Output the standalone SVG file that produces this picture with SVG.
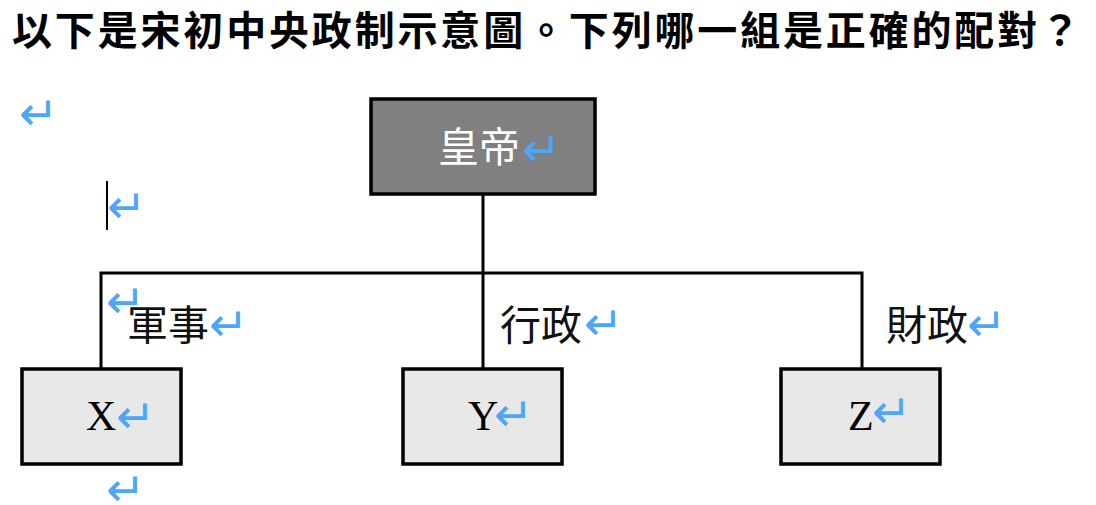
<svg xmlns="http://www.w3.org/2000/svg" width="1096" height="505" viewBox="0 0 1096 505">
<style>
.title{font-family:"Liberation Sans","Noto Sans CJK TC",sans-serif;font-weight:bold;font-size:40px;fill:#000}
.lbl{font-family:"Liberation Serif","Noto Sans CJK TC",serif;font-size:41px;fill:#111}
.ltr{font-family:"Liberation Serif",serif;font-size:42px;fill:#000}
.ret{font-family:"DejaVu Sans",sans-serif;font-size:47px;fill:#4da6f7}
.conn{stroke:#000;stroke-width:3;fill:none}
.box{fill:#e8e8e8;stroke:#000;stroke-width:3.5}
.top{fill:#808080;stroke:#000;stroke-width:3.5}
</style>
<text class="title" x="12" y="45" textLength="1068" lengthAdjust="spacing">以下是宋初中央政制示意圖。下列哪一組是正確的配對？</text>
<text class="ret" x="19" y="130">↵</text>
<text class="ret" x="107" y="223">↵</text>
<line x1="107" y1="181" x2="107" y2="230" stroke="#000" stroke-width="2"/>
<text class="ret" x="106" y="318">↵</text>
<text class="ret" x="106" y="506">↵</text>
<g id="connectors">
<line class="conn" x1="483" y1="194" x2="483" y2="369"/>
<polyline class="conn" points="101,369 101,273 862,273 862,369"/>
</g>
<g id="emperor">
<rect class="top" x="371" y="99" width="224" height="95"/>
<text class="lbl" x="438" y="162" style="fill:#fff">皇帝</text>
<text class="ret" x="522" y="166">↵</text>
</g>
<g id="label-military">
<text class="lbl" x="127" y="340">軍事</text>
<text class="ret" x="209" y="341">↵</text>
</g>
<g id="label-admin">
<text class="lbl" x="500" y="340">行政</text>
<text class="ret" x="584" y="340">↵</text>
</g>
<g id="label-finance">
<text class="lbl" x="886" y="340">財政</text>
<text class="ret" x="967" y="341">↵</text>
</g>
<g id="X">
<rect class="box" x="22" y="369" width="159" height="95"/>
<text class="ltr" x="86" y="430">X</text>
<text class="ret" x="116" y="433">↵</text>
</g>
<g id="Y">
<rect class="box" x="403" y="369" width="159" height="95"/>
<text class="ltr" x="468" y="430">Y</text>
<text class="ret" x="494" y="431">↵</text>
</g>
<g id="Z">
<rect class="box" x="781" y="369" width="159" height="95"/>
<text class="ltr" x="848" y="430">Z</text>
<text class="ret" x="872" y="428">↵</text>
</g>
</svg>
